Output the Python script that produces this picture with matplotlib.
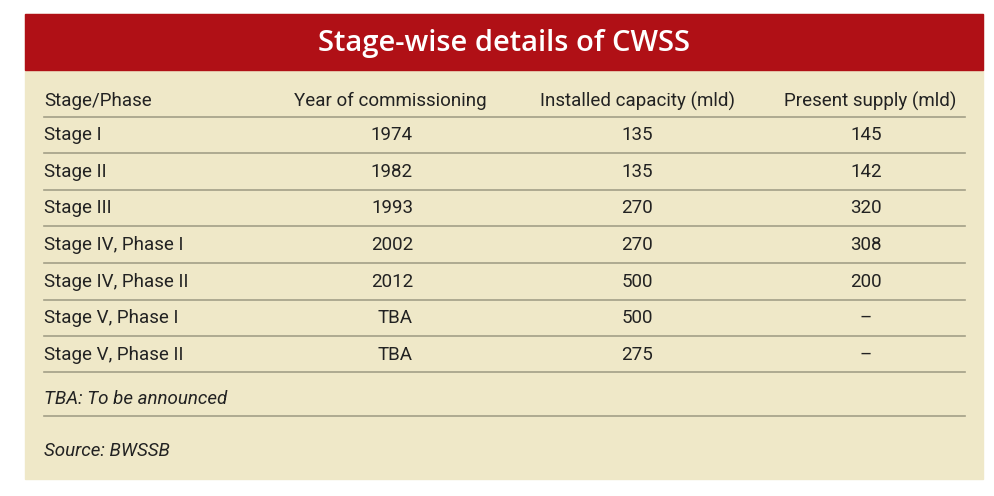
import matplotlib
matplotlib.use("Agg")
import matplotlib.pyplot as plt
from matplotlib.patches import Rectangle

title = "Stage-wise details of CWSS"
headers = ["Stage/Phase", "Year of commissioning", "Installed capacity (mld)", "Present supply (mld)"]
stages = ["Stage I", "Stage II", "Stage III", "Stage IV, Phase I", "Stage IV, Phase II", "Stage V, Phase I", "Stage V, Phase II"]
years = ["1974", "1982", "1993", "2002", "2012", "TBA", "TBA"]
capacity = ["135", "135", "270", "270", "500", "500", "275"]
supply = ["145", "142", "320", "308", "200", "\u2013", "\u2013"]
note = "TBA: To be announced"
source = "Source: BWSSB"

W, H = 994, 496
fig = plt.figure(figsize=(W/100, H/100), dpi=100)
ax = fig.add_axes([0, 0, 1, 1])
ax.set_xlim(0, W); ax.set_ylim(H, 0); ax.axis("off")
fig.patch.set_facecolor("white")
FF = ["Liberation Sans Narrow", "Roboto", "DejaVu Sans"]
ax.add_patch(Rectangle((25, 14), 958, 465, color="#efe8c8", zorder=0))
ax.add_patch(Rectangle((25, 14), 958, 56, color="#b01016", zorder=1))
ax.text(504, 44, title, color="white", fontsize=21, ha="center", va="center",
        family=["Open Sans", "DejaVu Sans"], fontweight="semibold", fontstretch="condensed")

rows_y = [101, 135, 172, 208, 245, 282, 318, 355]
lines_y = [117, 153, 190, 226, 263, 300, 336, 372, 416]
for y in lines_y:
    ax.plot([44, 965], [y, y], color="#a39f88", lw=1.2)
col_x = [44, 413, 637, 866]
aligns = ["left", "right", "center", "center"]
hx = [44, 487, 637, 870]
hal = ["left", "right", "center", "center"]
for x, a, t in zip(hx, hal, headers):
    ax.text(x, rows_y[0], t, ha=a, va="center", fontsize=13.5, family=FF, color="#222")
for i in range(len(stages)):
    y = rows_y[i+1]
    for x, a, t in zip(col_x, aligns, [stages[i], years[i], capacity[i], supply[i]]):
        ax.text(x, y, t, ha=a, va="center", fontsize=13.5, family=FF, color="#222")
ax.text(44, 399, note, ha="left", va="center", fontsize=13.5, family=FF, style="italic", color="#222")
ax.text(44, 451, source, ha="left", va="center", fontsize=13.5, family=FF, style="italic", color="#222")
fig.savefig("out.png", dpi=100, facecolor="white")
